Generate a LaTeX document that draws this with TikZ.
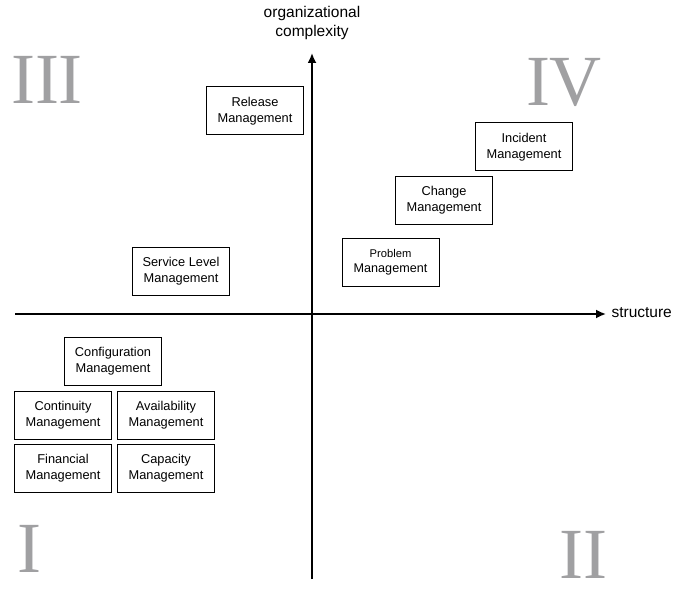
\documentclass[tikz,border=0pt]{standalone}
\usepackage{fontspec}
\setmainfont{Liberation Sans}
\newfontfamily\numeralfont{Liberation Serif}
\usetikzlibrary{arrows.meta}
\definecolor{numgray}{RGB}{160,160,162}
\begin{document}
\begin{tikzpicture}[x=1pt,y=-1pt,
  proc/.style={draw=black,line width=1pt,minimum width=97pt,minimum height=48pt,
    inner sep=0pt,align=center,font=\fontsize{12.8}{16.3}\selectfont},
  axis/.style={line width=1.8pt,-{Latex[length=10pt,width=9pt]}},
  axlabel/.style={align=center,font=\fontsize{15.5}{19}\selectfont},
  quadrant/.style={text=numgray,inner sep=0pt,font=\numeralfont\fontsize{72}{72}\selectfont}]
\useasboundingbox (0,0) rectangle (682,593);

% axes
\coordinate (xstart) at (15,314);
\coordinate (xend) at (606,314);
\coordinate (ystart) at (312,579);
\coordinate (yend) at (312,53);
\draw[axis] (xstart) -- (xend);
\draw[axis] (ystart) -- (yend);
\node[axlabel,anchor=west] (xl) at (608,313) {structure};
\node[axlabel] (yl) at (312,23) {organizational\\complexity};

% quadrant numerals
\node[quadrant] (q3) at (47,80) {III};
\node[quadrant] (q4) at (564,82) {IV};
\node[quadrant] (q1) at (29,549) {I};
\node[quadrant] (q2) at (583,555) {II};

% processes
\node[proc] (rel) at (255,111) {Release\\Management};
\node[proc] (inc) at (524,147) {Incident\\Management};
\node[proc] (chg) at (444,200.5) {Change\\Management};
\node[proc,font=\fontsize{11.2}{15.5}\selectfont] (prb) at (390.5,262.3) {Problem\\{\fontsize{12.6}{15.5}\selectfont Management}};
\node[proc] (slm) at (181,271.5) {Service Level\\Management};
\node[proc] (cfg) at (113,361) {Configuration\\Management};
\node[proc] (con) at (63,415) {Continuity\\Management};
\node[proc] (ava) at (166,415) {Availability\\Management};
\node[proc] (fin) at (63,468) {Financial\\Management};
\node[proc] (cap) at (166,468) {Capacity\\Management};
\end{tikzpicture}
\end{document}
